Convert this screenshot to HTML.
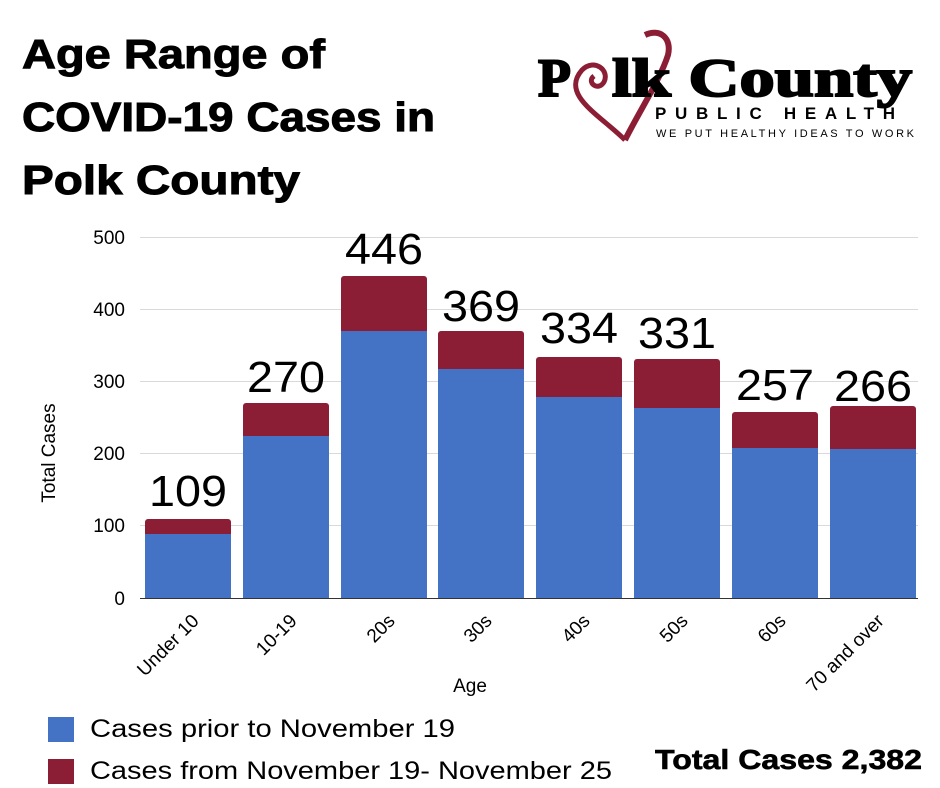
<!DOCTYPE html>
<html><head><meta charset="utf-8"><style>body{margin:0;background:#fff}svg{display:block}</style></head><body>
<svg width="940" height="788" xmlns="http://www.w3.org/2000/svg" font-family="Liberation Sans, sans-serif">
<rect width="940" height="788" fill="#fff"/>
<g font-weight="bold" font-size="41" fill="#000" stroke="#000" stroke-width="1">
<text x="22" y="68" textLength="303" lengthAdjust="spacingAndGlyphs">Age Range of</text>
<text x="22" y="131" textLength="413" lengthAdjust="spacingAndGlyphs">COVID-19 Cases in</text>
<text x="22" y="194" textLength="278" lengthAdjust="spacingAndGlyphs">Polk County</text>
</g>
<!-- logo -->
<path d="M625 140 C600 115 560 95 582 70 C594 58 610 70 604 82 C598 92 586 82 594 76" fill="none" stroke="#8B1E35" stroke-width="5"/>
<path d="M625 140 C640 110 660 80 668 55 C672 38 660 28 645 35" fill="none" stroke="#8B1E35" stroke-width="6"/>
<text x="538" y="96" font-family="Liberation Serif, serif" font-weight="bold" font-size="54" fill="#000" stroke="#000" stroke-width="2">P</text>
<text x="612" y="96" font-family="Liberation Serif, serif" font-weight="bold" font-size="54" fill="#000" stroke="#000" stroke-width="2" textLength="300" lengthAdjust="spacingAndGlyphs">lk County</text>
<text x="655" y="119" font-weight="bold" font-size="17" fill="#000" textLength="240" lengthAdjust="spacing">PUBLIC HEALTH</text>
<text x="656" y="137" font-size="11" fill="#000" textLength="258" lengthAdjust="spacing">WE PUT HEALTHY IDEAS TO WORK</text>
<!-- grid -->
<g stroke="#d9d9d9" stroke-width="1">
<line x1="140" y1="237.5" x2="918" y2="237.5"/>
<line x1="140" y1="309.5" x2="918" y2="309.5"/>
<line x1="140" y1="381.5" x2="918" y2="381.5"/>
<line x1="140" y1="453.5" x2="918" y2="453.5"/>
<line x1="140" y1="525.5" x2="918" y2="525.5"/>
</g>
<line x1="140" y1="598.5" x2="918" y2="598.5" stroke="#333"/>
<g font-size="19" fill="#000" text-anchor="end">
<text x="125" y="244">500</text><text x="125" y="316">400</text><text x="125" y="388">300</text>
<text x="125" y="460">200</text><text x="125" y="532">100</text><text x="125" y="605">0</text>
</g>
<text transform="translate(55,453) rotate(-90)" font-size="19" text-anchor="middle">Total Cases</text>
<g id="bars">
<rect x="145" y="519" width="86" height="79" rx="3" fill="#8B1E35"/><rect x="145" y="534" width="86" height="64" fill="#4472C4"/>
<rect x="243" y="403" width="86" height="195" rx="3" fill="#8B1E35"/><rect x="243" y="436" width="86" height="162" fill="#4472C4"/>
<rect x="341" y="276" width="86" height="322" rx="3" fill="#8B1E35"/><rect x="341" y="331" width="86" height="267" fill="#4472C4"/>
<rect x="438" y="331" width="86" height="267" rx="3" fill="#8B1E35"/><rect x="438" y="369" width="86" height="229" fill="#4472C4"/>
<rect x="536" y="357" width="86" height="241" rx="3" fill="#8B1E35"/><rect x="536" y="397" width="86" height="201" fill="#4472C4"/>
<rect x="634" y="359" width="86" height="239" rx="3" fill="#8B1E35"/><rect x="634" y="408" width="86" height="190" fill="#4472C4"/>
<rect x="732" y="412" width="86" height="186" rx="3" fill="#8B1E35"/><rect x="732" y="448" width="86" height="150" fill="#4472C4"/>
<rect x="830" y="406" width="86" height="192" rx="3" fill="#8B1E35"/><rect x="830" y="449" width="86" height="149" fill="#4472C4"/>
</g>
<g font-size="44" text-anchor="middle" fill="#000">
<text x="188" y="506" textLength="78" lengthAdjust="spacingAndGlyphs">109</text><text x="286" y="392" textLength="78" lengthAdjust="spacingAndGlyphs">270</text><text x="384" y="264" textLength="78" lengthAdjust="spacingAndGlyphs">446</text>
<text x="481" y="321" textLength="78" lengthAdjust="spacingAndGlyphs">369</text><text x="579" y="343" textLength="78" lengthAdjust="spacingAndGlyphs">334</text><text x="677" y="348" textLength="78" lengthAdjust="spacingAndGlyphs">331</text>
<text x="775" y="400" textLength="78" lengthAdjust="spacingAndGlyphs">257</text><text x="873" y="401" textLength="78" lengthAdjust="spacingAndGlyphs">266</text>
</g>
<g font-size="19" text-anchor="end" fill="#000">
<text transform="translate(200,622) rotate(-45)">Under 10</text>
<text transform="translate(298,622) rotate(-45)">10-19</text>
<text transform="translate(396,622) rotate(-45)">20s</text>
<text transform="translate(493,622) rotate(-45)">30s</text>
<text transform="translate(591,622) rotate(-45)">40s</text>
<text transform="translate(689,622) rotate(-45)">50s</text>
<text transform="translate(787,622) rotate(-45)">60s</text>
<text transform="translate(885,622) rotate(-45)">70 and over</text>
</g>
<text x="470" y="692" font-size="19" text-anchor="middle">Age</text>
<rect x="48" y="717" width="26" height="25" fill="#4472C4"/>
<rect x="48" y="759" width="26" height="25" fill="#8B1E35"/>
<text x="90" y="737" font-size="25" textLength="365" lengthAdjust="spacingAndGlyphs">Cases prior to November 19</text>
<text x="90" y="779" font-size="25" textLength="522" lengthAdjust="spacingAndGlyphs">Cases from November 19- November 25</text>
<text x="655" y="769" font-size="28" font-weight="bold" stroke="#000" stroke-width="0.6" textLength="267" lengthAdjust="spacingAndGlyphs">Total Cases 2,382</text>
</svg>
</body></html>
